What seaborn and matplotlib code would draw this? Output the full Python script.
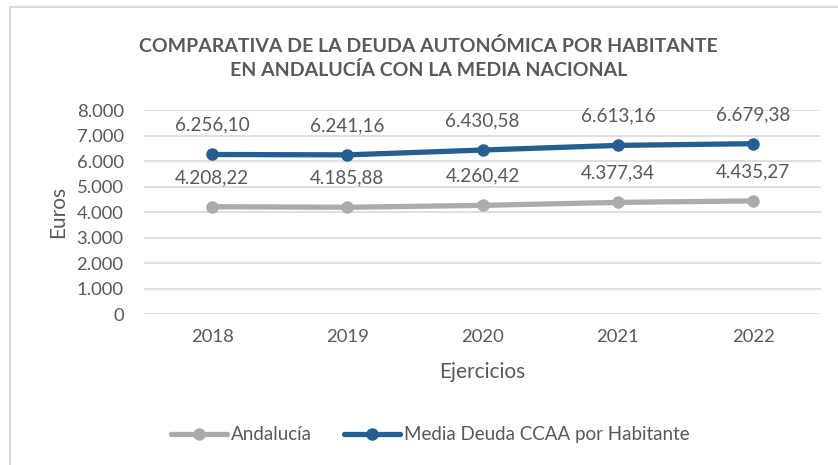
import seaborn as sns
import pandas as pd
import matplotlib.pyplot as plt
from matplotlib.patches import Rectangle

# Values
years = ["2018", "2019", "2020", "2021", "2022"]
andalucia = [4208.22, 4185.88, 4260.42, 4377.34, 4435.27]
media_ccaa = [6256.10, 6241.16, 6430.58, 6613.16, 6679.38]
series_names = ["Andalucía", "Media Deuda CCAA por Habitante"]
yticks = [0, 1000, 2000, 3000, 4000, 5000, 6000, 7000, 8000]

TXT = "#595959"
colors = {series_names[0]: "#ABABAE", series_names[1]: "#255E91"}

def es_num(v, dec=2):
    s = f"{v:,.{dec}f}"
    return s.replace(",", "X").replace(".", ",").replace("X", ".")

df = pd.DataFrame({
    "year": years * 2,
    "value": andalucia + media_ccaa,
    "serie": [series_names[0]] * len(years) + [series_names[1]] * len(years),
})

sns.set_theme(style="white")
plt.rcParams["font.family"] = ["Lato", "DejaVu Sans"]

fig = plt.figure(figsize=(8.38, 4.65), dpi=100)
ax = fig.add_axes([0.1724, 0.3247, 0.807, 0.4387])

sns.lineplot(data=df, x="year", y="value", hue="serie", palette=colors,
             marker="o", markersize=9, markeredgewidth=0, linewidth=3.8,
             sort=False, ax=ax, legend=False)

# data labels above each point
for i, y in enumerate(years):
    ax.annotate(es_num(andalucia[i]), (i, andalucia[i]), xytext=(0, 21),
                textcoords="offset points", ha="center", va="center",
                fontsize=13.6, color=TXT)
    ax.annotate(es_num(media_ccaa[i]), (i, media_ccaa[i]), xytext=(0, 21),
                textcoords="offset points", ha="center", va="center",
                fontsize=13.6, color=TXT)

ax.set_xlim(-0.5, len(years) - 0.5)
ax.set_ylim(0, 8000)
ax.set_yticks(yticks)
ax.set_yticklabels([es_num(t, 0) for t in yticks])
ax.yaxis.grid(True, color="#D9D9D9", linewidth=1.2)
ax.xaxis.grid(False)
for s in ax.spines.values():
    s.set_visible(False)
ax.tick_params(axis="both", length=0, labelsize=13.3, labelcolor=TXT)
ax.tick_params(axis="x", pad=11)
ax.tick_params(axis="y", pad=15)
ax.set_xlabel("Ejercicios", fontsize=15, color=TXT, labelpad=12)
ax.set_ylabel("Euros", fontsize=15, color=TXT, labelpad=6)

fig.text(0.511, 0.875, "COMPARATIVA DE LA DEUDA AUTONÓMICA POR HABITANTE\nEN ANDALUCÍA CON LA MEDIA NACIONAL",
         ha="center", va="center", fontsize=14, fontweight="bold", color=TXT,
         linespacing=1.45)

handles = [plt.Line2D([], [], color=colors[n], linewidth=3.8, marker="o",
                      markersize=9, markeredgewidth=0) for n in series_names]
fig.legend(handles, series_names, loc="center", bbox_to_anchor=(0.513, 0.065),
           ncol=2, frameon=False, fontsize=13.5, labelcolor=TXT,
           handlelength=3.0, columnspacing=1.7, handletextpad=0.2)

# chart frame (right and bottom edges cut off in the original)
fig.patches.append(Rectangle((10 / 838, -0.1), 1.2, 1 - 7 / 465 + 0.1,
                             transform=fig.transFigure, fill=False,
                             edgecolor="#D9D9D9", linewidth=1.5))

fig.savefig("out.png", dpi=100)
